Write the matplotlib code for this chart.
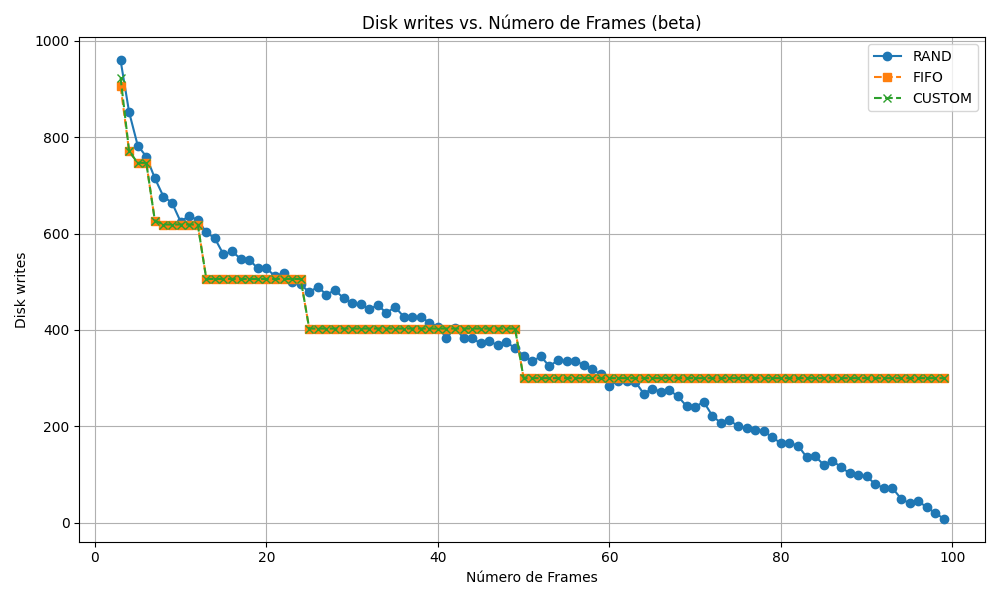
import matplotlib.pyplot as plt

frames = list(range(3, 100))

rand_writes = [960, 852, 783, 760, 715, 677, 664, 625, 637, 628,
               603, 590, 557, 563, 548, 546, 528, 528, 512, 518,
               500, 495, 478, 490, 473, 483, 466, 455, 453, 443,
               452, 435, 448, 428, 426, 428, 415, 407, 383, 405,
               383, 383, 372, 377, 368, 375, 362, 347, 335, 345,
               325, 337, 335, 335, 328, 318, 308, 284, 295, 295,
               293, 268, 278, 272, 275, 262, 242, 240, 251, 222,
               207, 213, 200, 197, 192, 190, 177, 165, 165, 160,
               136, 138, 120, 129, 115, 103, 98, 96, 80, 72,
               72, 50, 40, 45, 32, 20, 8]

fifo_writes = ([906, 771, 747, 747, 627] + [619] * 5 + [506] * 12
               + [403] * 25 + [300] * 50)
custom_writes = ([924, 771, 747, 747, 627] + [619] * 5 + [506] * 12
                 + [403] * 25 + [300] * 50)

fig, ax = plt.subplots(figsize=(10, 6), dpi=100)
ax.plot(frames, rand_writes, marker='o', linestyle='-', label='RAND')
ax.plot(frames, fifo_writes, marker='s', linestyle='--', label='FIFO')
ax.plot(frames, custom_writes, marker='x', linestyle='--', label='CUSTOM')
ax.set_title('Disk writes vs. Número de Frames (beta)')
ax.set_xlabel('Número de Frames')
ax.set_ylabel('Disk writes')
ax.grid(True)
ax.legend()
fig.tight_layout()
fig.savefig('out.png')
plt.close(fig)
